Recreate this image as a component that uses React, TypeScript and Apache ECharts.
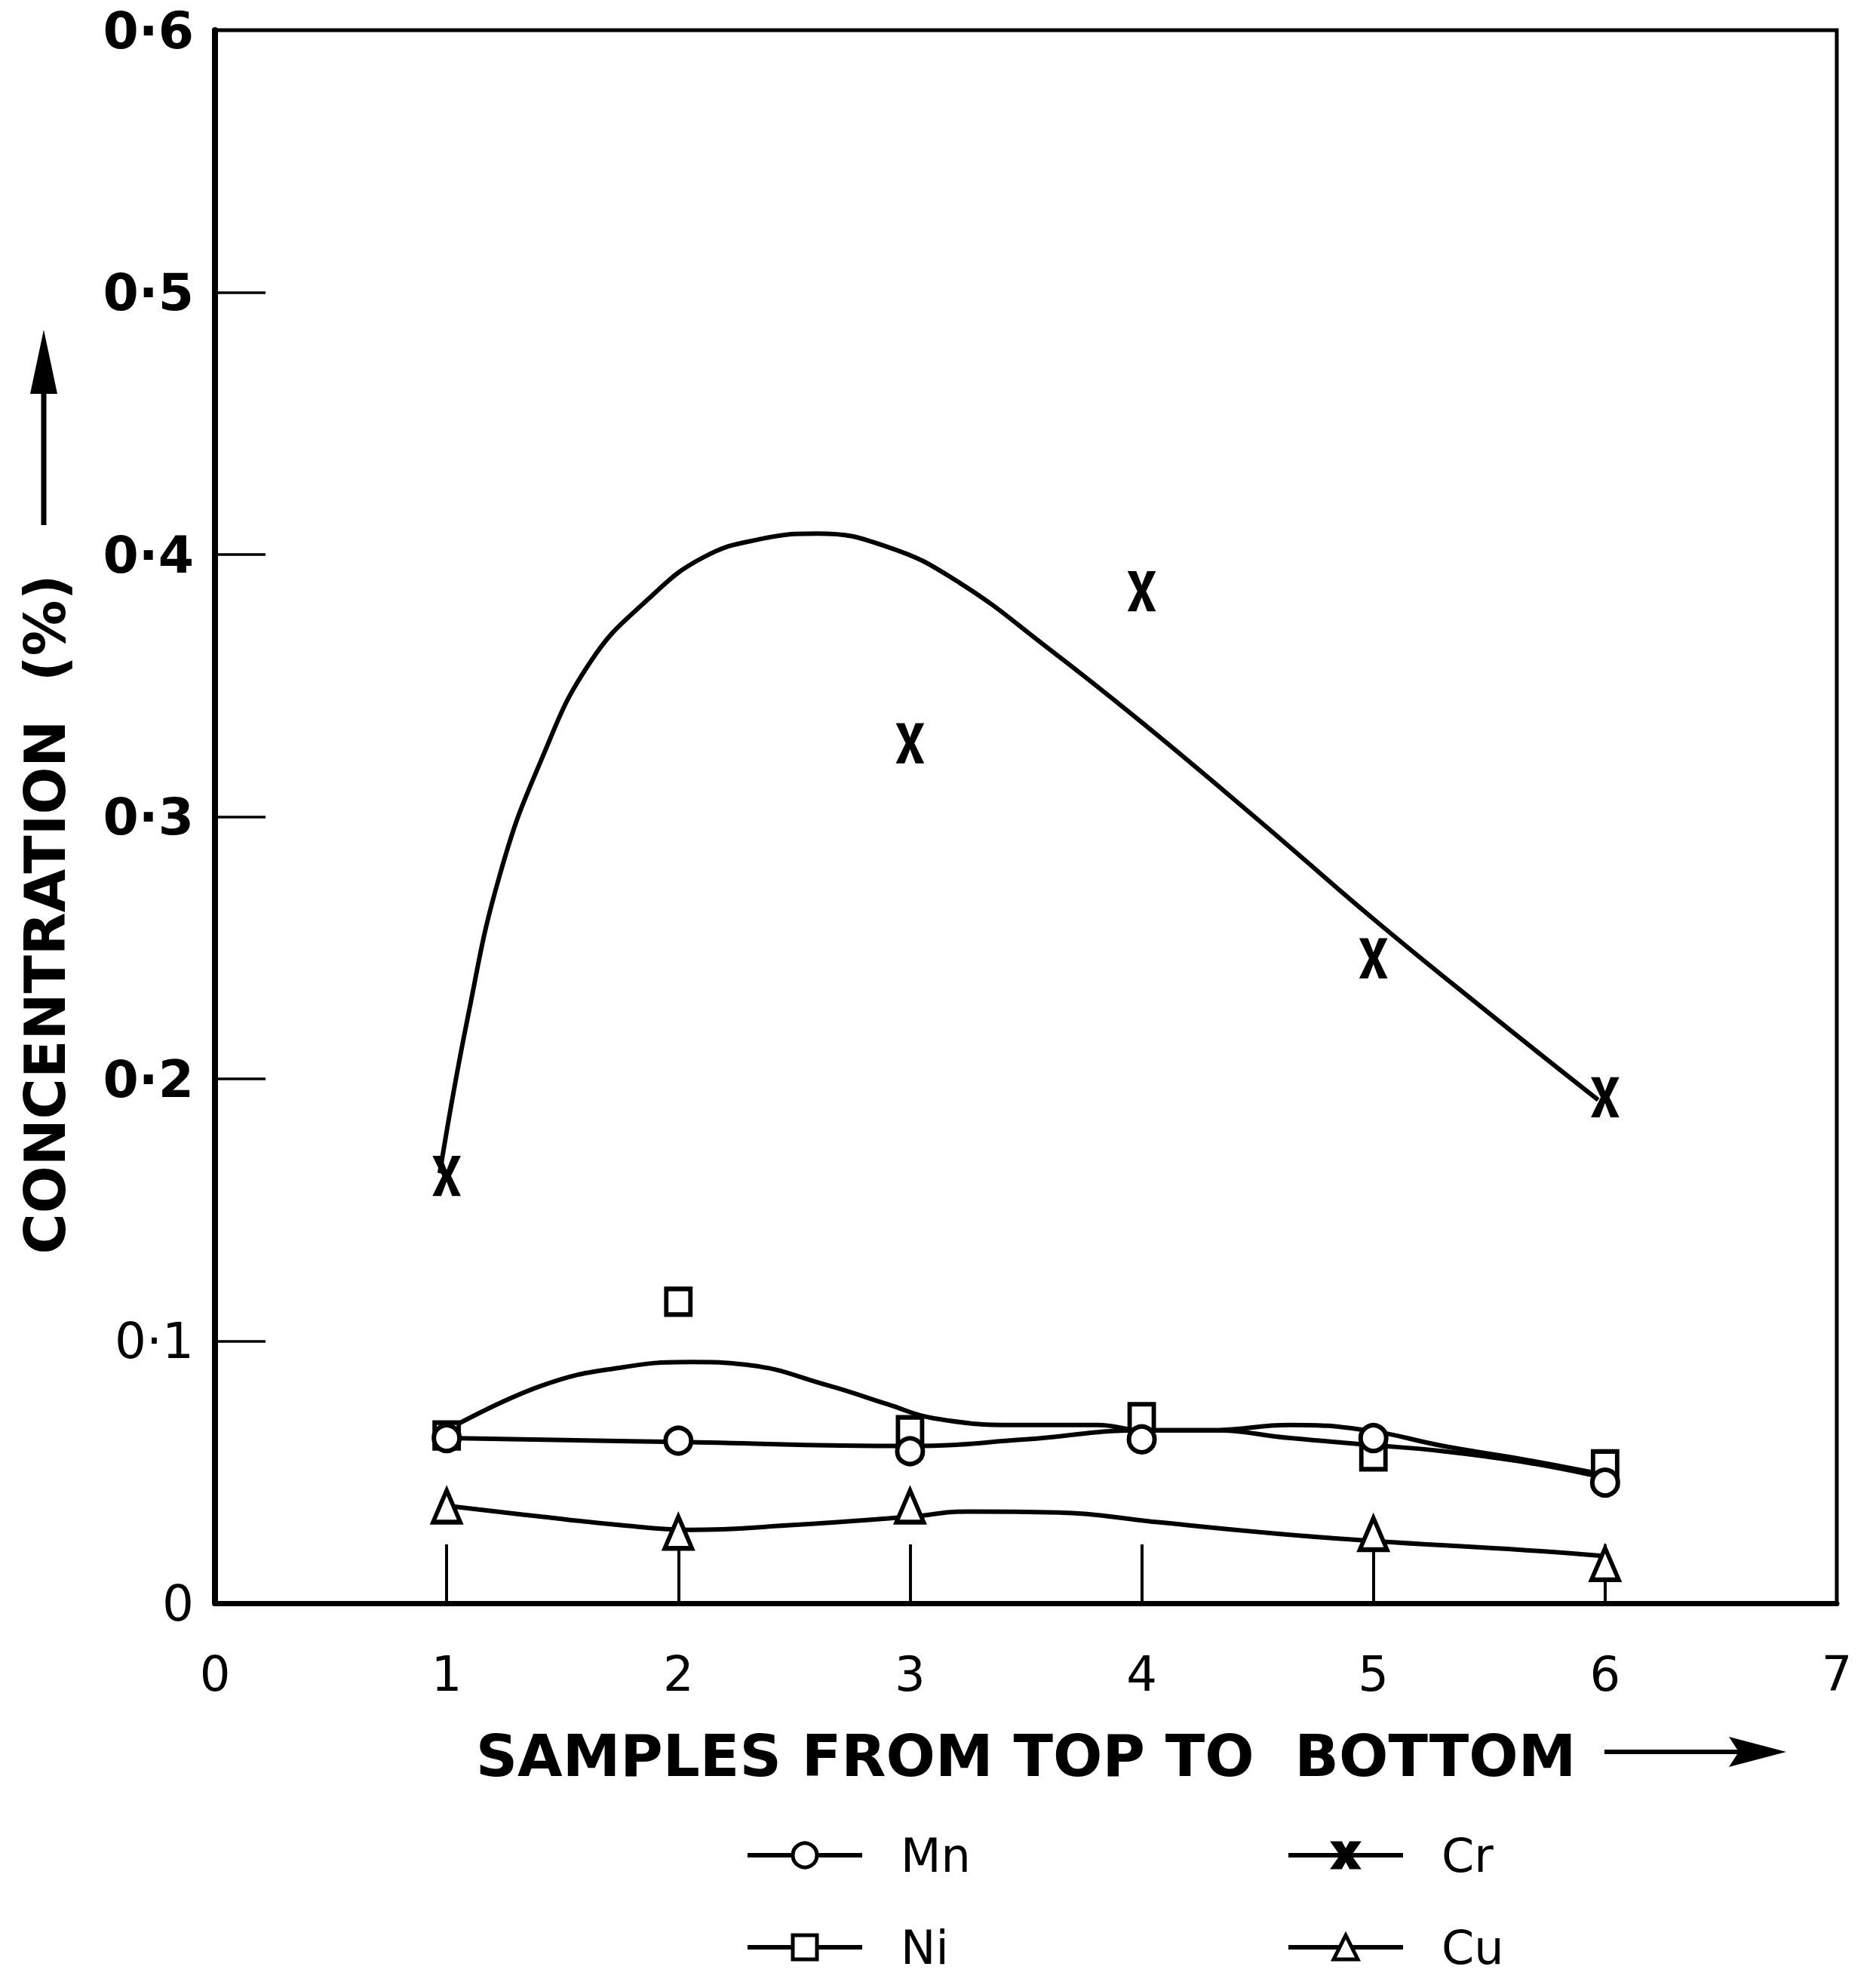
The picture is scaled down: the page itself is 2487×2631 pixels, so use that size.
import React, { useEffect, useRef } from "react";
import * as echarts from "echarts";

// ---- data ----
const samples = [1, 2, 3, 4, 5, 6];
const xTickLabels = ["0", "1", "2", "3", "4", "5", "6", "7"];
const yTickLabels = ["0", "0·1", "0·2", "0·3", "0·4", "0·5", "0·6"];

// measured points (null = no marker drawn)
const mnPoints = [0.063, 0.062, 0.058, 0.0625, 0.063, 0.046];
const niPoints = [0.064, 0.115, 0.066, 0.071, 0.056, 0.053];
const crPoints = [0.163, null, 0.328, 0.386, 0.246, 0.193];
const cuPoints = [0.037, 0.027, 0.037, null, 0.0265, 0.015];

// hand-drawn fitted curves
const crCurveX = [0.97, 1.09, 1.23, 1.41, 1.62, 1.87, 2.11, 2.36, 2.6, 2.9, 3.2, 3.6, 4.0, 4.5, 5.0, 5.5, 5.97];
const crCurveY = [0.164, 0.223, 0.278, 0.322, 0.359, 0.383, 0.399, 0.406, 0.408, 0.403, 0.39, 0.364, 0.336, 0.299, 0.261, 0.225, 0.192];

const niCurveX = [1.0, 1.41, 1.76, 2.06, 2.29, 2.65, 2.9, 3.1, 3.46, 3.81, 4.0, 4.3, 4.64, 4.97, 5.3, 5.64, 5.94];
const niCurveY = [0.066, 0.083, 0.09, 0.092, 0.091, 0.083, 0.076, 0.0706, 0.068, 0.068, 0.066, 0.066, 0.068, 0.066, 0.06, 0.055, 0.05];

const mnCurveX = [1.0, 2.0, 3.0, 3.5, 4.0, 4.3, 4.64, 4.97, 5.3, 5.64, 5.94];
const mnCurveY = [0.063, 0.0615, 0.06, 0.0625, 0.066, 0.066, 0.063, 0.0605, 0.058, 0.054, 0.049];

const cuCurveX = [1.02, 1.41, 1.76, 2.05, 2.47, 3.0, 3.25, 3.64, 4.06, 4.59, 5.02, 5.58, 6.0];
const cuCurveY = [0.037, 0.033, 0.0297, 0.028, 0.0297, 0.033, 0.035, 0.0346, 0.031, 0.0265, 0.0236, 0.0207, 0.018];

const legendLeft = ["Mn", "Ni"];
const legendRight = ["Cr", "Cu"];

const xTitle = "SAMPLES FROM TOP TO  BOTTOM";
const yTitle = "CONCENTRATION  (%)";

const X_SYMBOL =
  "path://M0,0 L7,0 L12,12 L17,0 L24,0 L15.5,16 L24,32 L17,32 L12,20 L7,32 L0,32 L8.5,16 Z";

const FONT = "DejaVu Sans";

function pairs(xs: number[], ys: (number | null)[]) {
  const out: [number, number][] = [];
  xs.forEach((x, i) => {
    const y = ys[i];
    if (y !== null && y !== undefined) out.push([x, y]);
  });
  return out;
}

const hollow = () => ({ color: "#fff", borderColor: "#000", borderWidth: 6, opacity: 1 });
const solid = () => ({ color: "#000", borderColor: "#000", borderWidth: 1, opacity: 1 });

function makeLegend(data: string[], left: number) {
  return {
    data,
    orient: "vertical",
    left,
    top: 2428,
    height: 400,
    padding: 0,
    itemWidth: 152,
    itemHeight: 40,
    itemGap: 60,
    selectedMode: false,
    lineStyle: { width: 6, color: "#000" },
    itemStyle: { borderWidth: 5, borderColor: "#000" },
    textStyle: { fontFamily: FONT, fontSize: 62, color: "#000", padding: [0, 0, 0, 46] },
  };
}

export default function App() {
  const ref = useRef<HTMLDivElement>(null);

  useEffect(() => {
    if (!ref.current) return;
    const chart = echarts.init(ref.current, undefined, { renderer: "svg" });

    const curve = (name: string, xs: number[], ys: number[], symbol: string, itemStyle: any) => ({
      name,
      type: "line",
      data: pairs(xs, ys),
      smooth: 0.45,
      showSymbol: false,
      symbol,
      itemStyle,
      lineStyle: { color: "#000", width: 6 },
      z: 2,
      silent: true,
    });

    const marks = (name: string, ys: (number | null)[], symbol: string, size: any, itemStyle: any) => ({
      name,
      type: "scatter",
      data: pairs(samples, ys),
      symbol,
      symbolSize: size,
      itemStyle,
      z: 5,
      silent: true,
    });

    const option: any = {
      animation: false,
      backgroundColor: "#fff",
      grid: {
        left: 285,
        right: 52,
        top: 40,
        bottom: 506,
        show: true,
        borderColor: "#000",
        borderWidth: 5,
        backgroundColor: "transparent",
      },
      xAxis: {
        type: "value",
        min: 0,
        max: 7,
        interval: 1,
        name: xTitle,
        nameLocation: "middle",
        nameGap: 202,
        nameTextStyle: {
          fontFamily: FONT,
          fontWeight: "bold",
          fontSize: 77,
          color: "#000",
          verticalAlign: "middle",
        },
        axisLine: { show: true, lineStyle: { color: "#000", width: 7 } },
        axisTick: { show: true, inside: true, length: 78, lineStyle: { color: "#000", width: 4 } },
        splitLine: { show: false },
        axisLabel: {
          margin: 62,
          fontFamily: FONT,
          fontSize: 64,
          color: "#000",
          formatter: (v: number) => xTickLabels[Math.round(v)] ?? "",
        },
      },
      yAxis: {
        type: "value",
        min: 0,
        max: 0.6,
        interval: 0.1,
        axisLine: { show: true, lineStyle: { color: "#000", width: 8 } },
        axisTick: { show: true, inside: true, length: 67, lineStyle: { color: "#000", width: 3.5 } },
        splitLine: { show: false },
        axisLabel: {
          margin: 28,
          fontFamily: FONT,
          fontSize: 68,
          color: "#000",
          formatter: (v: number) => {
            const i = Math.round(v * 10);
            const t = yTickLabels[i] ?? "";
            return i <= 1 ? `{n|${t}}` : `{b|${t}}`;
          },
          rich: {
            n: { fontFamily: FONT, fontSize: 66, fontWeight: "normal", color: "#000" },
            b: { fontFamily: FONT, fontSize: 68, fontWeight: "bold", color: "#000" },
          },
        },
      },
      legend: [makeLegend(legendLeft, 988), makeLegend(legendRight, 1705)],
      series: [
        curve("Cr", crCurveX, crCurveY, X_SYMBOL, solid()),
        curve("Ni", niCurveX, niCurveY, "rect", hollow()),
        curve("Mn", mnCurveX, mnCurveY, "circle", hollow()),
        curve("Cu", cuCurveX, cuCurveY, "triangle", hollow()),
        marks("Cr points", crPoints, X_SYMBOL, [36, 52], solid()),
        marks("Ni points", niPoints, "rect", [32, 34], hollow()),
        marks("Mn points", mnPoints, "circle", [34, 34], hollow()),
        marks("Cu points", cuPoints, "triangle", [36, 42], hollow()),
      ],
      graphic: [
        {
          type: "text",
          x: 60,
          y: 1212,
          rotation: Math.PI / 2,
          style: {
            text: yTitle,
            fontFamily: FONT,
            fontWeight: "bold",
            fontSize: 74,
            fill: "#000",
            align: "center",
            verticalAlign: "middle",
          },
        },
        {
          type: "line",
          shape: { x1: 58, y1: 696, x2: 58, y2: 500 },
          style: { stroke: "#000", lineWidth: 7 },
        },
        {
          type: "polygon",
          shape: { points: [[58, 437], [40, 522], [76, 522]] },
          style: { fill: "#000" },
        },
        {
          type: "line",
          shape: { x1: 2127, y1: 2322, x2: 2310, y2: 2322 },
          style: { stroke: "#000", lineWidth: 6 },
        },
        {
          type: "polygon",
          shape: { points: [[2368, 2322], [2292, 2302], [2305, 2322], [2292, 2342]] },
          style: { fill: "#000" },
        },
      ],
    };

    chart.setOption(option);
    return () => chart.dispose();
  }, []);

  return (
    <div
      ref={ref}
      style={{ position: "absolute", left: 0, top: 0, width: 2487, height: 2631, background: "#fff" }}
    />
  );
}
